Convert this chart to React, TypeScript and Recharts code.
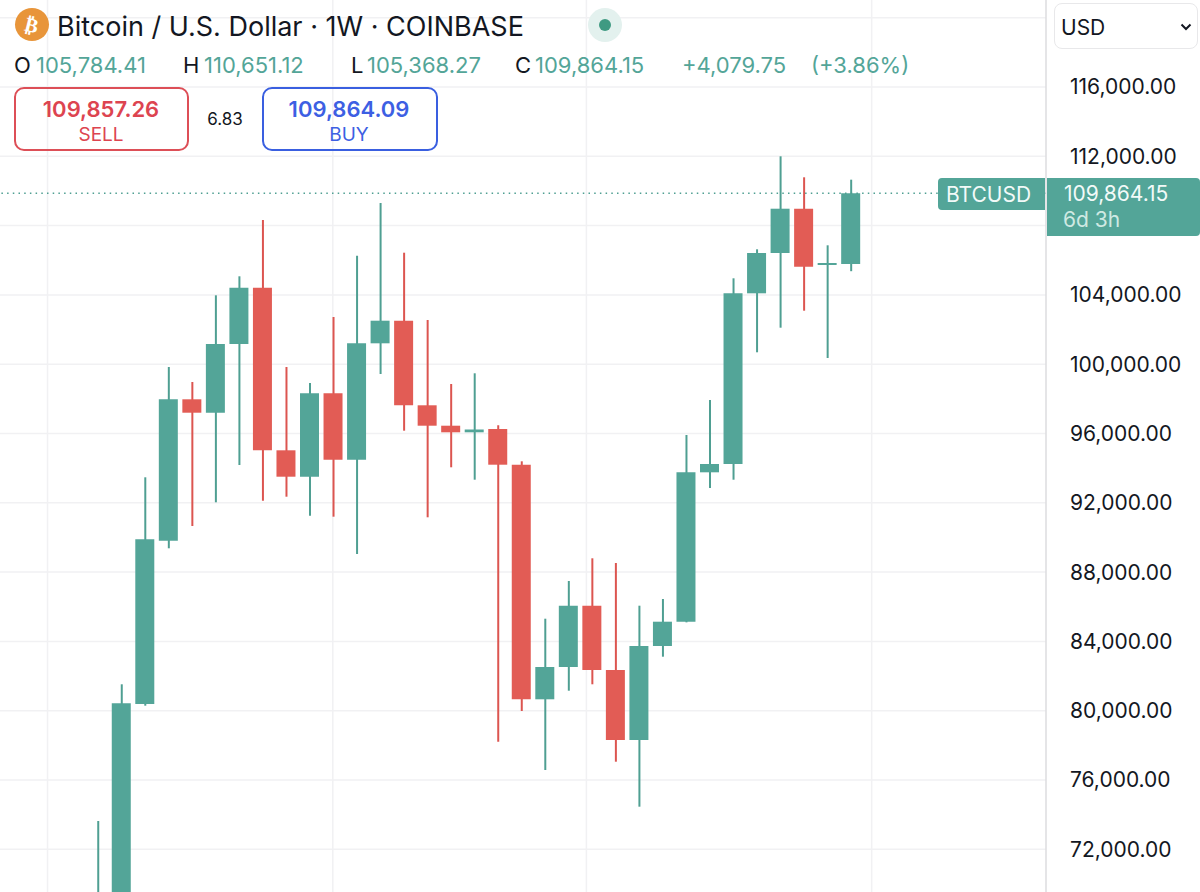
import React from "react";
import { ComposedChart, Bar, Cell, XAxis, YAxis, CartesianGrid, ReferenceLine } from "recharts";

const weeks = [0,1,2,3,4,5,6,7,8,9,10,11,12,13,14,15,16,17,18,19,20,21,22,23,24,25,26,27,28,29,30,31,32];
const opens = [68000,69300,80387,89812,97974,97200,101166,104416,95030,93506,98320,94488,101206,102511,97628,96450,96069,96260,94199,80658,82522,86061,82349,78309,83735,85137,93760,94240,104092,106418,108975,105726,105784.41];
const highs = [73634,81524,93472,99838,98973,103977,105074,108323,99838,98915,102724,106263,109304,106436,102551,98857,99475,96473,94395,85310,87486,88797,88525,86061,86447,95913,97934,104958,106632,112000,110788,106863,110651.12];
const lows = [66800,66800,80289,89374,90661,92029,94182,92121,92352,91255,91198,89045,99434,96162,91163,94049,93333,78211,79983,76577,81154,81524,77056,74459,83117,85100,92854,93333,100687,102107,103088,100358,105368.27];
const closes = [69300,80427,89893,97974,97200,101166,104416,95030,93506,98320,94488,101206,102511,97628,96450,96069,96231,94199,80658,82522,86061,82349,78309,83735,85137,93760,94240,104092,106418,108975,105628,105841,109864.15];

const priceTicks = [72000,76000,80000,84000,88000,92000,96000,100000,104000,108000,112000,116000,120000];
const hiddenPriceLabels = [108000,120000];
const gridWeeks = [1,10,18,27,36];
const lastClose = 109864.15;

const GREEN = "#53a598";
const GREEN_WICK = "#4f9f92";
const RED = "#e25c55";
const RED_WICK = "#dc5550";

const candles = weeks.map((w, i) => ({
  week: w,
  range: [lows[i], highs[i]],
  body: [Math.min(opens[i], closes[i]), Math.max(opens[i], closes[i])],
  up: closes[i] >= opens[i],
}));

const FONT = "Inter, 'Noto Sans', sans-serif";
const fmt = (v: number) => v.toLocaleString("en-US", { minimumFractionDigits: 2, maximumFractionDigits: 2 });

const Abs = ({ x, y, size, color, weight, children, center, spacing }: any) => (
  <div
    style={{
      position: "absolute",
      left: x,
      top: y,
      transform: center ? "translate(-50%,-50%)" : "translateY(-50%)",
      fontSize: size,
      color,
      fontWeight: weight || 400,
      whiteSpace: "nowrap",
      lineHeight: 1,
      letterSpacing: spacing || 0,
    }}
  >
    {children}
  </div>
);

export default function App() {
  return (
    <div style={{ position: "absolute", left: 0, top: 0, width: 1200, height: 892, overflow: "hidden", background: "#fff", fontFamily: FONT }}>
      <ComposedChart
        width={1200}
        height={892}
        data={candles}
        margin={{ top: 0, right: 0, bottom: 0, left: 0 }}
        barGap={0}
      >
        <CartesianGrid stroke="#f1f1f3" strokeWidth={1.5} verticalValues={gridWeeks} horizontalValues={priceTicks} />
        <XAxis xAxisId="wick" dataKey="week" type="number" domain={[-4.165, 40.29]} hide ticks={gridWeeks} allowDataOverflow />
        <XAxis xAxisId="body" dataKey="week" type="number" domain={[-4.165, 40.29]} hide ticks={gridWeeks} allowDataOverflow />
        <YAxis
          orientation="right"
          width={154}
          domain={[69535, 121022]}
          allowDataOverflow
          ticks={priceTicks}
          interval={0}
          tickLine={false}
          tickMargin={18}
          axisLine={{ stroke: "#dcdcdf", strokeWidth: 1.5 }}
          tick={{ fill: "#131722", fontSize: 21, fontFamily: FONT, textAnchor: "start" }}
          tickFormatter={(v: number) => (hiddenPriceLabels.includes(v) ? "" : fmt(v))}
        />
        <ReferenceLine xAxisId="wick" y={lastClose} stroke="#4f9f92" strokeWidth={1.5} strokeDasharray="1.5 4.2" />
        <Bar xAxisId="wick" dataKey="range" barSize={2} isAnimationActive={false}>
          {candles.map((c) => (
            <Cell key={c.week} fill={c.up ? GREEN_WICK : RED_WICK} />
          ))}
        </Bar>
        <Bar xAxisId="body" dataKey="body" barSize={19} minPointSize={2} isAnimationActive={false}>
          {candles.map((c) => (
            <Cell key={c.week} fill={c.up ? GREEN : RED} />
          ))}
        </Bar>
      </ComposedChart>

      {/* header */}
      <div style={{ position: "absolute", left: 15, top: 8, width: 34, height: 33, borderRadius: "50%", background: "#e8953a", color: "#fff", display: "flex", alignItems: "center", justifyContent: "center", fontFamily: "DejaVu Sans", fontWeight: 700, fontSize: 20 }}>
        <span style={{ transform: "rotate(14deg)" }}>₿</span>
      </div>
      <Abs x={57} y={26} size={27} color="#131722">Bitcoin / U.S. Dollar · 1W · COINBASE</Abs>
      <div style={{ position: "absolute", left: 588, top: 8, width: 34, height: 34, borderRadius: "50%", background: "#e3f1ee" }} />
      <div style={{ position: "absolute", left: 599, top: 19, width: 12, height: 12, borderRadius: "50%", background: "#3f9a82" }} />

      <Abs x={14} y={65} size={22} color="#131722">O</Abs>
      <Abs x={36} y={65} size={22} color={GREEN}>105,784.41</Abs>
      <Abs x={183} y={65} size={22} color="#131722">H</Abs>
      <Abs x={204} y={65} size={22} color={GREEN}>110,651.12</Abs>
      <Abs x={351} y={65} size={22} color="#131722">L</Abs>
      <Abs x={367} y={65} size={22} color={GREEN}>105,368.27</Abs>
      <Abs x={515} y={65} size={22} color="#131722">C</Abs>
      <Abs x={535} y={65} size={22} color={GREEN}>109,864.15</Abs>
      <Abs x={682} y={65} size={22} color={GREEN}>+4,079.75</Abs>
      <Abs x={811} y={65} size={22} color={GREEN}>(+3.86%)</Abs>

      <div style={{ position: "absolute", left: 14, top: 87, width: 171, height: 60, border: "2px solid #dd4f57", borderRadius: 10 }} />
      <Abs x={101} y={109} size={22} weight={600} color="#dd4450" center>109,857.26</Abs>
      <Abs x={101} y={134} size={19} color="#dd4450" center>SELL</Abs>
      <Abs x={225} y={119} size={17} color="#131722" center>6.83</Abs>
      <div style={{ position: "absolute", left: 262, top: 87, width: 172, height: 60, border: "2px solid #3a5fe0", borderRadius: 10 }} />
      <Abs x={349} y={109} size={22} weight={600} color="#3d5fe3" center>109,864.09</Abs>
      <Abs x={349} y={134} size={19} color="#3d5fe3" center>BUY</Abs>

      {/* currency select */}
      <div style={{ position: "absolute", left: 1054, top: 3, width: 142, height: 44, border: "1.5px solid #e8e8ea", borderRadius: 8, background: "#fff" }} />
      <Abs x={1061} y={27} size={21} color="#131722">USD</Abs>
      <svg style={{ position: "absolute", left: 1180, top: 22 }} width={12} height={10}>
        <path d="M1.5 2.5 L6 7 L10.5 2.5" fill="none" stroke="#131722" strokeWidth={2} />
      </svg>

      {/* last price tags */}
      <div style={{ position: "absolute", left: 938, top: 178, width: 107, height: 32, background: GREEN, borderRadius: "4px 0 0 4px" }} />
      <Abs x={946} y={194} size={21} color="#f2faf8">BTCUSD</Abs>
      <div style={{ position: "absolute", left: 1047, top: 178, width: 153, height: 58, background: GREEN, borderRadius: "0 4px 4px 0" }} />
      <Abs x={1064} y={193} size={21} color="#f2faf8">{fmt(lastClose)}</Abs>
      <Abs x={1063} y={219} size={21} color="#cfe9e3">6d 3h</Abs>
    </div>
  );
}
